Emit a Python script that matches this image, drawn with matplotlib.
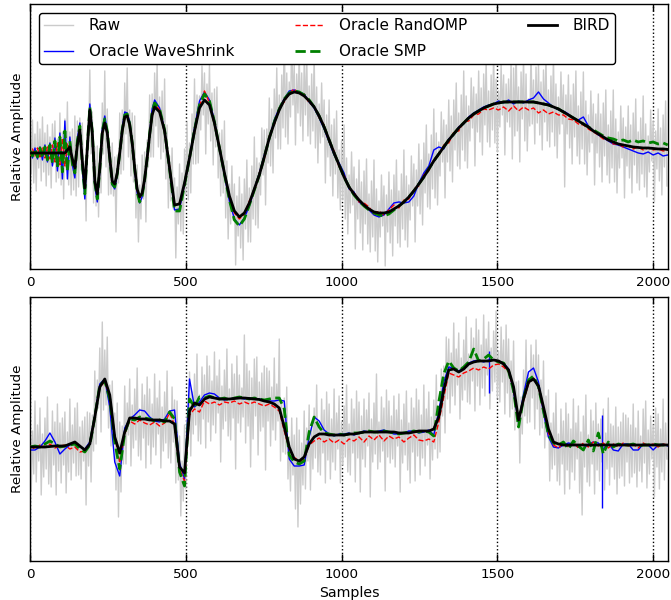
import matplotlib
matplotlib.use("Agg")
import matplotlib.pyplot as plt

plt.rcParams['font.family'] = ['DejaVu Sans']
plt.rcParams['font.size'] = 9.5

# ---------------- TOP PANEL (Doppler-like) ----------------
raw_x = list(range(0, 2048, 4))
top_raw = [
    2.6, -2.1, 3.3, -3.0, 1.9, -3.8, 3.1, -1.5, 2.4, -2.8, 3.6, -1.9, 2.0, -3.3, 2.8, -2.2, 1.6, -3.5, 2.9, -1.1, 3.2, -2.9, 1.4, -2.5,
    4.0, -3.2, 2.1, -4.6, 3.4, -1.7, 5.1, -3.2, 2.1, -4.2, 2.4, -3.7, 3.7, -4.3, 3.2, -3.4, 3.5, -1.7, 3.0, -3.5, -0.8, -6.8, 2.3, 0.4,
    8.3, -0.1, 4.1, -5.0, 0.6, -5.3, 0.7, -6.4, 0.0, -4.0, 5.0, -0.1, 8.2, -1.4, 4.4, -4.2, 0.7, -4.1, 1.0, -4.3, -0.4, -7.9, -0.2, -3.0,
    4.0, -2.1, 4.3, -1.7, 7.0, 1.9, 8.5, -0.4, 4.3, -2.3, 4.0, -2.9, 3.7, -6.5, -1.2, -8.9, -3.2, -6.6, -0.2, -4.6, 0.1, -6.9, 1.3, -1.4,
    5.8, -0.4, 5.9, -0.4, 8.0, 2.7, 9.2, 0.6, 5.6, -0.6, 6.2, 0.1, 7.4, -2.6, 2.8, -5.5, -0.3, -4.8, 0.5, -5.6, -2.5, -10.5, -3.4, -7.1,
    -1.1, -7.8, -2.0, -8.1, 0.4, -4.2, 3.1, -4.7, 1.0, -4.0, 3.9, -1.1, 7.4, -1.1, 5.8, -1.0, 5.7, 2.3, 8.7, 3.8, 8.0, -0.1, 6.9, 2.9,
    8.8, 1.2, 6.0, -1.2, 6.4, 0.6, 6.6, -2.5, 2.0, -4.3, 2.3, -4.0, 3.2, -6.5, -0.8, -8.6, -3.1, -7.1, -1.3, -6.7, -3.1, -11.2, -4.3, -8.3,
    -2.4, -9.5, -4.1, -10.7, -2.6, -7.6, -0.7, -8.9, -3.5, -8.9, -1.3, -6.6, 1.6, -7.2, -0.5, -7.5, -1.0, -4.2, 2.5, -2.2, 2.3, -5.2, 2.4, -1.0,
    5.5, -1.3, 4.4, -2.0, 6.4, 1.5, 8.5, 0.4, 5.8, 0.4, 7.8, 2.5, 12.5, 1.6, 8.0, 0.9, 7.1, 3.6, 11.8, 4.8, 8.8, 0.8, 7.9, 4.0,
    10.0, 2.7, 8.0, 1.2, 9.1, 3.8, 10.3, 1.7, 6.7, 0.9, 7.9, 2.2, 9.8, 0.5, 6.6, -1.0, 4.9, 1.0, 7.0, 1.6, 5.3, -3.0, 3.8, -0.4,
    5.3, -2.3, 2.8, -4.3, 3.4, -2.1, 4.2, -4.5, 0.3, -5.7, 1.2, -4.7, 2.8, -6.6, -0.5, -8.1, -2.2, -6.0, 0.1, -5.2, -1.4, -9.6, -2.6, -6.6,
    -0.7, -8.0, -2.9, -9.7, -1.8, -7.1, -0.6, -9.1, -4.1, -9.9, -2.8, -8.4, -0.7, -9.8, -3.6, -10.9, -4.8, -8.4, -2.2, -7.3, -3.3, -11.3, -4.2, -7.9,
    -1.9, -9.0, -3.7, -10.3, -2.2, -7.3, -0.7, -9.0, -3.8, -9.4, -2.1, -7.6, 0.3, -8.7, -2.3, -9.4, -3.2, -6.7, -0.3, -5.3, -1.1, -8.9, -1.7, -5.3,
    0.9, -6.1, -0.7, -7.2, 1.0, -4.0, 2.8, -5.4, -0.1, -5.6, 1.8, -3.6, 4.4, -4.5, 2.0, -5.2, 1.1, -2.3, 4.1, -0.9, 3.3, -4.5, 2.8, -0.9,
    5.3, -1.8, 3.7, -2.9, 5.3, 0.3, 7.0, -1.3, 4.0, -1.6, 5.8, 0.3, 8.2, -0.8, 5.7, -1.5, 4.7, 1.2, 7.5, 2.5, 6.6, -1.3, 5.9, 2.1,
    8.2, 1.1, 6.5, -0.2, 7.9, 2.8, 9.4, 1.1, 6.2, 0.6, 7.8, 2.3, 10.1, 1.0, 7.4, 0.1, 6.2, 2.6, 8.9, 3.8, 7.8, -0.2, 6.9, 3.1,
    7.4, 2.6, 9.0, -0.6, 8.5, 1.7, 11.0, 2.2, 6.6, -0.9, 8.1, 3.4, 9.6, 1.2, 7.9, 0.2, 5.4, 2.7, 10.1, 2.9, 7.3, 0.9, 8.6, 3.0,
    9.0, 1.8, 7.1, 0.3, 8.3, 3.1, 9.7, 1.2, 6.3, 0.6, 7.7, 2.1, 9.8, 0.7, 6.9, -0.5, 5.6, 1.9, 8.1, 2.9, 6.8, -3.4, 5.8, 1.9,
    7.8, 0.5, 5.8, -1.1, 6.9, 1.6, 8.2, -0.3, 4.7, -1.1, 6.1, 0.4, 8.1, -1.1, 5.2, -2.2, 3.8, 0.1, 6.2, 1.0, 4.9, -3.2, 3.9, 0.0,
    5.9, -1.4, 3.9, -2.9, 5.0, -0.3, 6.3, -2.2, 2.8, -3.0, 4.2, -1.5, 6.3, -2.9, 3.4, -4.0, 2.1, -1.5, 4.7, -0.5, 3.5, -4.5, 2.6, -1.3,
    4.7, -2.5, 2.8, -4.0, 4.0, -1.2, 5.4, -3.0, 2.1, -3.7, 3.5, -2.1, 5.7, -3.4, 2.9, -4.4, 1.7, -1.9, 4.3, -0.8, 3.2, -4.9, 2.2, -1.6,
    4.4, -2.8, 2.5, -4.2, 3.8, -1.4, 5.2, -3.3,
]

top_x = list(range(0, 401, 8)) + list(range(416, 2033, 16)) + [2047]

top_bird = [
    0, 0, 0, 0, 0, 0, 0, 0, 0, 0, 0, 0, 0, 0, 0,
    0.3, 0.6, -0.6, -1.5, 0.8, 2.3, -0.8, -3.5, 0.5, 4.3,
    2.0, -2.8, -4.1, -1.5, 2.0, 3.0, 2.0, -0.5, -2.8, -3.1,
    -2.0, 0.0, 2.2, 3.6, 3.7, 2.8, 1.0, -1.5, -3.6, -4.4,
    -4.0, -2.6, -0.5, 1.8, 3.8, 4.6,
    4.1, 2.2, -1.5, -5.2, -5.1, -3.0, -0.5, 2.2, 4.5, 5.3,
    4.8, 3.0, 0.5, -2.0, -4.3, -5.8, -6.4, -6.0, -5.0, -3.6,
    -2.2, -0.4, 1.5, 3.0, 4.3, 5.3, 5.9, 6.1, 6.0, 5.7,
    5.2, 4.6, 3.7, 2.6, 1.3, 0.0, -1.2, -2.4, -3.4, -4.1,
    -4.7, -5.2, -5.6, -5.9, -6.0, -6.0, -5.9, -5.6, -5.3, -4.9,
    -4.4, -3.8, -3.1, -2.4, -1.6, -0.8, -0.1, 0.6, 1.3, 1.9,
    2.5, 3.0, 3.5, 3.9, 4.2, 4.5, 4.7, 4.9, 5.0, 5.1,
    5.1, 5.1, 5.1, 5.1, 5.1, 5.1, 5.0, 4.9, 4.8, 4.6,
    4.4, 4.1, 3.8, 3.5, 3.2, 2.9, 2.6, 2.2, 1.9, 1.6,
    1.3, 1.1, 0.9, 0.8, 0.7, 0.6, 0.55, 0.5, 0.5, 0.45,
    0.4, 0.4, 0.35,
]

top_waveshrink = [
    0.4, -0.5, 0.5, -0.6, 0.6, -0.7, 0.8, -0.9, 1.0, -1.3, 1.5, -1.8, 2.0, -2.6, 3.2,
    -2.6, 1.6, -1.2, -2.5, 1.4, 3.0, -1.6, -4.6, 0.6, 4.9,
    2.2, -3.3, -4.9, -1.8, 2.4, 3.7, 2.3, -0.6, -3.2, -3.6,
    -2.2, 0.1, 2.5, 4.1, 4.0, 3.1, 1.0, -1.7, -4.0, -5.0,
    -4.4, -2.8, -0.4, 2.0, 4.4, 5.3,
    4.5, 2.3, -1.7, -5.7, -5.6, -3.1, -0.4, 2.5, 5.2, 6.1,
    5.3, 3.2, 0.4, -2.2, -4.8, -6.6, -7.2, -6.5, -5.3, -3.6,
    -2.0, -0.2, 1.4, 3.3, 4.5, 5.4, 6.2, 6.3, 6.1, 5.9,
    5.1, 4.5, 3.5, 2.4, 1.1, -0.2, -1.0, -2.0, -3.6, -3.9,
    -4.9, -5.3, -5.7, -6.2, -6.4, -6.2, -5.6, -5.0, -4.9, -5.0,
    -4.9, -4.3, -3.0, -2.0, -1.3, 0.3, 0.6, 0.4, 1.4, 1.8,
    2.6, 2.9, 3.6, 4.0, 4.3, 4.6, 4.8, 4.9, 5.2, 5.0,
    5.3, 4.9, 5.2, 5.0, 5.3, 5.5, 6.1, 5.4, 5.0, 4.6,
    4.3, 4.2, 3.9, 3.4, 3.3, 3.6, 2.7, 2.2, 1.8, 1.5,
    1.2, 0.9, 0.8, 0.6, 0.4, 0.2, 0.0, -0.1, 0.1, -0.2,
    0.0, -0.3, -0.2,
]

top_randomp = [
    -0.3, 0.4, -0.3, 0.5, -0.4, 0.5, -0.5, 0.6, -0.6, 0.8, -0.9, 1.0, -1.2, 1.5, -1.3,
    0.9, 0.5, -0.9, -1.3, 1.0, 2.2, -1.0, -3.6, 0.3, 4.1,
    2.2, -2.6, -4.0, -1.7, 1.8, 2.9, 2.2, -0.3, -3.0, -3.2,
    -2.1, 0.2, 2.0, 3.4, 3.9, 2.6, 1.2, -1.3, -3.7, -4.5,
    -4.1, -2.5, -0.7, 1.9, 3.6, 4.9,
    4.3, 2.0, -1.3, -5.3, -5.0, -3.2, -0.3, 2.0, 4.7, 6.2,
    5.0, 2.8, 0.7, -2.1, -4.2, -6.0, -6.6, -6.1, -4.8, -3.8,
    -2.0, -0.6, 1.7, 2.8, 4.5, 5.1, 6.0, 6.4, 5.9, 5.9,
    5.0, 4.7, 3.5, 2.8, 1.1, 0.2, -1.4, -2.2, -3.6, -3.9,
    -4.9, -5.0, -5.4, -6.1, -5.8, -6.2, -5.7, -5.2, -5.5, -4.7,
    -4.6, -3.6, -3.3, -2.2, -1.8, -0.6, -0.3, 0.8, 1.0, 2.1,
    2.2, 3.1, 3.2, 3.8, 3.9, 4.4, 4.3, 4.5, 4.3, 4.6,
    4.2, 4.7, 4.2, 4.6, 4.3, 4.5, 4.0, 4.3, 3.9, 4.1,
    3.8, 3.8, 3.4, 3.3, 2.9, 2.8, 2.4, 2.1, 1.8, 1.4,
    1.3, 0.9, 0.9, 0.6, 0.7, 0.4, 0.6, 0.3, 0.5, 0.3,
    0.4, 0.2, 0.3,
]

top_smp = [
    0.2, -0.3, 0.4, -0.4, 0.5, -0.5, 0.6, -0.7, 0.8, -1.0, 1.2, -1.4, 1.6, -1.9, 2.2,
    -1.8, 1.2, -1.1, -2.0, 1.2, 2.7, -1.2, -4.1, 0.6, 4.6,
    2.1, -3.0, -4.6, -1.6, 2.2, 3.4, 2.2, -0.5, -3.1, -3.4,
    -2.1, 0.0, 2.3, 3.8, 3.9, 2.9, 1.0, -1.6, -3.9, -4.9,
    -4.3, -2.7, -0.5, 1.9, 4.1, 5.0,
    4.4, 2.3, -1.6, -5.8, -5.8, -3.2, -0.5, 2.3, 4.8, 5.9,
    5.2, 3.1, 0.5, -2.1, -4.7, -6.7, -7.3, -6.6, -5.2, -3.7,
    -2.2, -0.4, 1.5, 3.1, 4.4, 5.4, 6.0, 6.2, 6.1, 5.8,
    5.3, 4.6, 3.7, 2.6, 1.3, 0.0, -1.2, -2.4, -3.4, -4.2,
    -4.8, -5.3, -5.7, -6.0, -6.2, -6.3, -6.1, -5.7, -5.3, -4.9,
    -4.4, -3.8, -3.1, -2.4, -1.6, -0.8, -0.1, 0.6, 1.3, 1.9,
    2.5, 3.0, 3.5, 3.9, 4.2, 4.5, 4.7, 4.9, 5.0, 5.1,
    5.1, 5.1, 5.1, 5.1, 5.1, 5.1, 5.0, 4.9, 4.8, 4.6,
    4.4, 4.1, 3.8, 3.5, 3.2, 2.9, 2.6, 2.3, 2.0, 1.7,
    1.5, 1.4, 1.2, 1.3, 1.1, 1.3, 1.1, 1.2, 1.0, 1.1,
    0.9, 1.0, 0.8,
]

# ---------------- BOTTOM PANEL (piece-regular) ----------------
bot_raw = [
    3.1, -4.4, 1.6, -2.7, 4.6, -3.5, 2.2, -1.4, 3.9, -4.8, 1.3, -3.0, 2.9, -2.2, 5.0, -3.7, 1.1, -4.0, 3.6, -1.8, 2.5, -4.8, 4.3, -2.4,
    2.4, -3.6, 2.9, -1.8, 3.5, -4.6, 1.5, -2.5, 4.8, -3.3, 2.2, -1.6, 3.9, -2.9, 4.4, -2.8, 2.0, -3.2, 2.6, -1.4, 3.0, -5.8, 3.5, -1.9,
    3.4, -3.5, 3.2, -0.4, 7.6, 0.3, 6.7, 3.9, 9.9, 1.5, 12.5, 3.7, 9.7, 4.2, 11.0, 1.9, 6.2, 0.1, 6.6, 0.2, 3.4, -4.3, 4.4, -7.0,
    2.5, -4.5, 2.1, -1.7, 6.1, -1.7, 4.4, 1.2, 6.8, -1.9, 4.2, -0.1, 5.8, 0.7, 7.9, -0.9, 3.8, -1.3, 6.3, 0.9, 5.2, -2.1, 7.0, 0.2,
    5.8, -1.7, 4.3, 0.0, 7.3, -0.8, 4.9, 1.3, 6.6, -2.1, 4.0, -0.4, 5.5, 0.4, 7.6, -1.1, 3.6, -1.6, 6.0, 0.5, 4.7, -3.6, 4.6, -3.3,
    1.1, -6.9, -1.4, -5.4, 2.2, -4.2, 3.2, 0.9, 7.5, -0.9, 5.5, 1.3, 7.3, 2.2, 9.3, 0.6, 5.2, 0.3, 8.0, 2.8, 7.2, -0.1, 9.1, 2.5,
    8.1, 0.6, 6.6, 2.2, 9.5, 1.4, 7.1, 3.4, 8.7, -1.5, 6.1, 1.8, 7.7, 2.6, 9.8, 1.1, 5.8, 0.7, 8.3, 2.9, 7.3, -2.2, 9.1, 2.4,
    7.2, 1.5, 5.9, 3.0, 11.2, 0.4, 8.3, 2.1, 7.6, -2.0, 6.9, 0.8, 8.8, 3.1, 9.0, -0.8, 6.5, 1.6, 7.4, 2.0, 8.1, -2.3, 7.9, 2.6,
    7.6, 0.1, 6.0, 1.7, 8.9, 0.7, 6.3, 2.6, 10.8, -1.4, 4.3, -0.5, 4.9, -0.7, 6.0, -3.2, 1.0, -4.4, 2.9, -2.8, 1.2, -6.2, 2.9, -8.0,
    1.7, -5.7, 0.4, -3.8, 3.6, -4.2, 1.9, -1.4, 4.2, -4.3, 2.0, -2.2, 3.9, -1.1, 6.2, -2.5, 2.3, -2.8, 4.8, -0.6, 3.7, -3.6, 5.5, -1.3,
    4.3, -3.2, 2.8, -1.5, 5.8, -2.3, 3.4, -0.2, 5.1, -3.6, 2.5, -1.8, 4.1, -1.0, 6.2, -2.5, 2.3, -2.8, 4.8, -0.6, 3.8, -3.5, 5.6, -1.1,
    4.5, -4.5, 3.1, -1.2, 4.8, -2.0, 3.7, 0.1, 5.4, -5.0, 2.8, -1.5, 4.4, -0.7, 7.3, -2.2, 2.5, -1.5, 5.0, -0.4, 3.9, -4.4, 5.7, -1.0,
    4.6, -1.6, 3.1, -1.2, 5.1, -2.0, 3.7, 0.1, 5.3, -4.5, 2.7, -1.6, 4.3, -0.8, 5.6, -2.3, 2.4, -3.6, 4.9, -0.5, 3.9, -3.4, 5.8, -0.9,
    4.7, -2.8, 3.2, -1.1, 6.2, -1.9, 3.8, 0.2, 5.5, -3.2, 3.0, -1.3, 4.7, -0.2, 7.2, -1.1, 4.0, -0.5, 7.8, 3.1, 8.1, 1.4, 11.0, 4.8,
    10.8, 3.4, 9.4, 5.1, 12.4, 4.2, 9.8, 6.2, 11.4, 2.8, 8.9, 4.7, 10.7, 5.7, 13.0, 4.5, 9.3, 4.3, 11.9, 6.6, 10.9, 3.6, 12.8, 6.1,
    11.7, 4.2, 10.2, 5.9, 13.2, 5.1, 10.8, 7.2, 12.5, 3.8, 9.9, 5.6, 11.6, 6.5, 13.6, 4.9, 9.6, 4.5, 12.0, 6.5, 10.7, 3.3, 12.2, 5.4,
    10.8, 3.0, 8.6, 3.8, 10.6, 1.7, 6.5, 2.1, 6.6, -1.6, 5.0, 1.3, 7.7, 3.1, 10.7, 2.4, 7.5, 2.5, 10.2, 4.9, 9.2, 1.8, 10.7, 3.8,
    9.2, 1.2, 6.7, 1.9, 8.6, -0.1, 5.1, 1.0, 5.7, -3.4, 2.4, -2.2, 3.4, -1.8, 5.4, -3.4, 1.3, -3.8, 3.8, -1.7, 2.6, -4.7, 4.4, -2.3,
    3.3, -4.2, 1.8, -2.5, 4.8, -3.3, 2.4, -1.2, 4.1, -4.6, 1.5, -6.8, 3.1, -2.0, 5.2, -3.5, 1.2, -3.9, 3.7, -1.7, 2.6, -4.7, 4.4, -2.3,
    2.3, -3.4, 2.8, -1.5, 3.8, -4.3, 1.4, -2.2, 4.9, -3.8, 2.3, -2.0, 2.1, -3.2, 4.0, -4.7, 2.0, -3.1, 2.5, -2.9, 3.4, -3.9, 3.2, -1.5,
    2.9, -3.6, 2.2, -3.0, 4.3, -2.6, 1.9, -4.0, 3.6, -2.4, 1.1, -3.5, 3.8, -1.6, 4.6, -4.1, 1.7, -2.7, 3.1, -1.2, 2.2, -5.0, 3.9, -2.0,
    3.3, -4.2, 1.8, -2.5, 4.8, -3.3, 2.4, -1.2,
]

bot_x = list(range(0, 2033, 16)) + [2047]

bot_bird = [
    0.0, 0.0, 0.0, 0.0, 0.05, 0.1, 0.1, 0.1, 0.3, 0.5,
    0.1, -0.3, 0.3, 3.0, 6.0, 6.8, 5.2, 1.0, -0.6, 1.5,
    2.9, 2.9, 2.8, 2.8, 2.7, 2.7, 2.7, 2.6, 2.6, 2.3,
    -2.0, -2.6, 3.6, 4.4, 4.2, 4.8, 5.0, 4.9, 4.8, 4.8,
    4.8, 4.85, 4.9, 4.9, 4.85, 4.8, 4.75, 4.6, 4.5, 4.3,
    3.9, 2.0, 0.0, -1.2, -1.4, -1.0, 0.3, 1.0, 1.3, 1.3,
    1.2, 1.2, 1.2, 1.2, 1.3, 1.3, 1.4, 1.5, 1.5, 1.5,
    1.5, 1.5, 1.5, 1.5, 1.4, 1.4, 1.4, 1.5, 1.6, 1.6,
    1.6, 1.8, 3.0, 5.7, 7.7, 7.8, 7.5, 7.8, 8.3, 8.5,
    8.6, 8.6, 8.6, 8.7, 8.6, 8.3, 7.7, 6.0, 2.7, 4.8,
    6.5, 6.8, 6.1, 4.0, 1.8, 0.5, 0.3, 0.2, 0.2, 0.2,
    0.2, 0.2, 0.2, 0.2, 0.2, 0.2, 0.2, 0.2, 0.2, 0.2,
    0.2, 0.2, 0.2, 0.2, 0.2, 0.2, 0.2, 0.2, 0.2,
]

bot_waveshrink = [
    -0.3, -0.3, 0.0, 0.6, 1.4, 0.5, -0.7, -0.2, 0.2, 0.4,
    0.0, -0.2, 0.5, 3.2, 6.3, 6.8, 4.0, -1.5, -2.9, 1.9,
    2.8, 3.2, 3.7, 3.6, 3.0, 2.6, 2.5, 2.8, 3.6, 3.7,
    -1.6, -3.2, 6.8, 4.0, 4.5, 5.2, 5.4, 5.3, 4.9, 4.7,
    4.8, 4.9, 4.9, 4.8, 4.9, 4.8, 4.8, 4.7, 4.6, 4.6,
    4.7, 4.6, -1.2, -1.9, -1.9, -1.8, 1.0, 3.0, 2.6, 1.7,
    1.3, 1.1, 1.3, 1.3, 1.4, 1.2, 1.4, 1.6, 1.5, 1.5,
    1.6, 1.7, 1.5, 1.3, 1.3, 1.4, 1.6, 1.6, 1.4, 1.5,
    1.7, 1.2, 3.6, 6.5, 8.0, 7.9, 7.6, 7.9, 8.4, 8.6,
    8.7, 8.5, 8.7, 8.7, 8.6, 8.4, 7.8, 5.5, 2.4, 5.3,
    7.5, 7.9, 6.5, 3.4, 1.0, 0.0, -0.1, 0.2, 0.4, 0.3,
    0.0, -0.2, 0.3, 0.5, 0.4, -0.2, 0.4, -0.3, -0.4, 0.3,
    0.3, -0.3, -0.3, 0.3, 0.2, -0.3, 0.2, 0.3, 0.1,
]
bot_ws_spike_x = [1472, 1836]
bot_ws_spike_lo = [5.4, -6.1]
bot_ws_spike_hi = [9.6, 3.2]

bot_randomp = [
    0.1, -0.2, 0.2, 0.0, 0.3, -0.1, 0.1, 0.2, -0.2, 0.0,
    -0.5, -0.4, 0.4, 3.1, 6.0, 6.5, 5.0, 1.2, -1.6, 1.3,
    2.6, 2.3, 2.7, 2.4, 2.2, 2.5, 2.1, 2.4, 3.4, 2.2,
    -2.2, -3.4, 3.2, 3.8, 3.5, 4.6, 4.3, 4.5, 4.2, 4.5,
    4.4, 4.6, 4.3, 4.5, 4.3, 4.5, 4.3, 4.1, 4.3, 4.0,
    3.6, 1.6, -0.2, -1.0, -1.5, -1.2, 0.2, 0.6, 0.9, 0.5,
    0.8, 0.4, 0.7, 0.3, 0.8, 0.6, 1.0, 0.5, 1.1, 0.7,
    1.2, 0.6, 1.1, 0.8, 1.0, 0.5, 0.9, 1.2, 0.7, 0.6,
    0.8, 0.5, 2.5, 5.0, 7.4, 7.2, 7.0, 7.4, 7.6, 7.9,
    7.7, 8.0, 7.8, 8.2, 8.3, 8.0, 7.5, 5.8, 2.9, 4.6,
    6.3, 6.9, 6.0, 3.8, 1.4, 0.2, -0.1, 0.4, 0.0, 0.5,
    -0.1, 0.4, 0.0, 0.5, 0.1, 0.4, -0.1, 0.3, 0.0, 0.4,
    0.1, 0.3, -0.1, 0.4, 0.1, 0.3, 0.0, 0.3, 0.2,
]

bot_smp = [
    0.0, 0.1, 0.0, 0.3, 0.6, 0.3, 0.0, 0.1, 0.2, 0.3,
    -0.2, -0.5, 0.2, 3.0, 6.2, 6.6, 4.8, 0.5, -2.2, 1.4,
    2.8, 2.7, 3.0, 2.9, 2.8, 2.6, 2.7, 2.5, 3.5, 2.8,
    -2.5, -3.9, 4.8, 4.0, 5.0, 4.9, 5.1, 4.9, 4.8, 4.9,
    4.7, 4.9, 5.0, 4.9, 4.8, 4.9, 4.8, 4.7, 4.8, 4.9,
    4.9, 3.8, -0.8, -1.5, -1.7, -1.4, 1.5, 3.0, 2.0, 1.4,
    1.3, 1.2, 1.3, 1.2, 1.3, 1.4, 1.4, 1.5, 1.6, 1.5,
    1.5, 1.6, 1.5, 1.4, 1.3, 1.4, 1.5, 1.6, 1.5, 1.6,
    1.5, 1.1, 4.5, 7.3, 8.6, 7.9, 7.6, 8.0, 8.5, 9.8,
    8.6, 8.8, 9.2, 8.7, 8.5, 8.4, 7.6, 5.6, 2.0, 4.9,
    6.7, 7.1, 6.0, 3.6, 1.2, 0.4, 0.2, 0.5, -0.2, 0.6,
    0.1, -0.3, 0.7, -0.4, 1.4, -0.7, 0.5, 0.0, 0.3, 0.2,
    0.2, 0.3, 0.1, 0.2, 0.2, 0.3, 0.2, 0.2, 0.2,
]

xticks = [0, 500, 1000, 1500, 2000]
labels = ["Raw", "Oracle WaveShrink", "Oracle RandOMP", "Oracle SMP", "BIRD"]

fig = plt.figure(figsize=(6.71, 6.0), dpi=100)
ax1 = fig.add_axes([0.0447, 0.5517, 0.951, 0.4417])
ax2 = fig.add_axes([0.0447, 0.065, 0.951, 0.44])


def draw(ax, rx, ry, x, ws, ro, smp, bird, ylim):
    ax.plot(rx, ry, color='#cbcbcb', lw=1.0, label=labels[0], zorder=1)
    ax.plot(x, ws, color='blue', lw=1.0, label=labels[1], zorder=2)
    ax.plot(x, ro, color='red', lw=1.0, ls='--', label=labels[2], zorder=3)
    ax.plot(x, smp, color='green', lw=2.0, ls='--', label=labels[3], zorder=4)
    ax.plot(x, bird, color='black', lw=2.0, label=labels[4], zorder=5)
    ax.set_xlim(0, 2048)
    ax.set_ylim(*ylim)
    ax.set_xticks(xticks)
    ax.set_yticks([])
    ax.tick_params(axis='x', direction='in', top=True, bottom=True,
                   length=5, width=1, labelsize=9.7, pad=5)
    for xv in xticks:
        ax.axvline(xv, color='black', ls=':', lw=1.0, zorder=0.5)
    ax.set_ylabel("Relative Amplitude", fontsize=9.7)
    for sp in ax.spines.values():
        sp.set_linewidth(1.0)


draw(ax1, raw_x, top_raw, top_x, top_waveshrink, top_randomp, top_smp,
     top_bird, (-11.6, 14.9))
draw(ax2, raw_x, bot_raw, bot_x, bot_waveshrink, bot_randomp, bot_smp,
     bot_bird, (-11.4, 15.0))
ax2.vlines(bot_ws_spike_x, bot_ws_spike_lo, bot_ws_spike_hi,
           color='blue', lw=1.0, zorder=2)
ax2.set_xlabel("Samples", fontsize=10.2)

leg = ax1.legend(loc='upper left', ncol=3, mode='expand',
                 bbox_to_anchor=(0.014, 0.5, 0.903, 0.466),
                 borderaxespad=0.0,
                 fancybox=True, framealpha=1.0, edgecolor='black',
                 fontsize=11, handlelength=1.9, borderpad=0.35,
                 labelspacing=0.7, handletextpad=1.0)
leg.get_frame().set_linewidth(1.0)
leg.set_zorder(10)

fig.savefig("out.png", dpi=100)
